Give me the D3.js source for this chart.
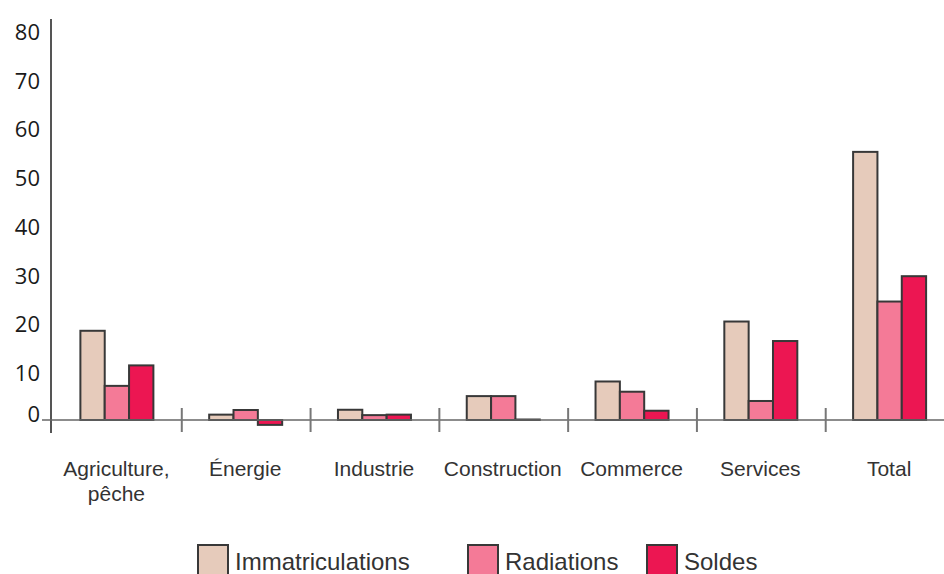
<!DOCTYPE html>
<html>
<head>
<meta charset="utf-8">
<script src="https://cdn.jsdelivr.net/npm/d3@7"></script>
<style>
  html, body { margin: 0; padding: 0; background: #fff; }
  svg { display: block; }
</style>
</head>
<body>
<svg id="chart" width="944" height="574"></svg>
<script>
const categories = [["Agriculture,", "pêche"], ["Énergie"], ["Industrie"], ["Construction"], ["Commerce"], ["Services"], ["Total"]];
const seriesNames = ["Immatriculations", "Radiations", "Soldes"];
const immatriculations = [18.3, 1.1, 2.1, 4.9, 7.9, 20.2, 55.0];
const radiations = [7.0, 2.05, 1.0, 4.9, 5.8, 3.9, 24.3];
const soldes = [11.2, -1.0, 1.1, 0.1, 1.9, 16.2, 29.5];
const yTicks = [0, 10, 20, 30, 40, 50, 60, 70, 80];
const colors = ["#e6cbbb", "#f47a97", "#ec1652"];

const seriesValues = [immatriculations, radiations, soldes];
const svg = d3.select("#chart");

const x0 = d3.scaleBand().domain(d3.range(categories.length)).range([53, 954.5]).paddingInner(0).paddingOuter(0);
const groupW = 73;
const x1 = d3.scaleBand().domain(d3.range(seriesNames.length)).range([0, groupW]).padding(0);
const y = d3.scaleLinear().domain([0, 80]).range([420, 30]);

// y axis
svg.append("line").attr("x1", 51).attr("x2", 51).attr("y1", 19).attr("y2", 433)
  .attr("stroke", "#555").attr("stroke-width", 2);
svg.append("g").selectAll("text").data(yTicks).join("text")
  .attr("x", 40)
  .attr("y", d => y(d))
  .attr("dy", d => d === 0 ? "0.1em" : "0.45em")
  .attr("text-anchor", "end")
  .attr("font-family", "'Open Sans', 'Noto Sans', sans-serif")
  .attr("font-size", 22)
  .attr("fill", "#1a1a1a")
  .text(d => d);

// bars
const groups = svg.append("g").selectAll("g").data(categories.map((c, i) => i)).join("g")
  .attr("transform", i => `translate(${x0(i) + x0.bandwidth() / 2 - groupW / 2 - 0.5},0)`);
groups.selectAll("rect").data(i => seriesValues.map((vals, s) => ({s, v: vals[i]}))).join("rect")
  .attr("x", d => x1(d.s))
  .attr("width", x1.bandwidth())
  .attr("y", d => Math.min(y(d.v), y(0)))
  .attr("height", d => Math.abs(y(d.v) - y(0)))
  .attr("fill", d => colors[d.s])
  .attr("stroke", "#383838")
  .attr("stroke-width", 2);

// x baseline
svg.append("line").attr("x1", 42).attr("x2", 944).attr("y1", y(0)).attr("y2", y(0))
  .attr("stroke", "#666").attr("stroke-width", 1.6);
// tick separators
svg.append("g").selectAll("line").data(d3.range(1, categories.length)).join("line")
  .attr("x1", i => x0(i)).attr("x2", i => x0(i))
  .attr("y1", y(0) - 12).attr("y2", y(0) + 12)
  .attr("stroke", "#777").attr("stroke-width", 2);

// category labels
const lab = svg.append("g").selectAll("text").data(categories).join("text")
  .attr("text-anchor", "middle")
  .attr("font-family", "'Liberation Sans', Arial, sans-serif")
  .attr("font-size", 21)
  .attr("fill", "#333")
  .attr("transform", (c, i) => `translate(${x0(i) + x0.bandwidth() / 2 - 1},476)`);
lab.selectAll("tspan").data(c => c).join("tspan")
  .attr("x", 0).attr("dy", (d, j) => j === 0 ? 0 : 25).text(d => d);

// legend
const legendX = [198, 468, 647];
const leg = svg.append("g").selectAll("g").data(seriesNames).join("g")
  .attr("transform", (d, i) => `translate(${legendX[i]},545)`);
leg.append("rect").attr("width", 30).attr("height", 32)
  .attr("fill", (d, i) => colors[i]).attr("stroke", "#383838").attr("stroke-width", 2);
leg.append("text").attr("x", 37).attr("y", 25)
  .attr("font-family", "'Liberation Sans', Arial, sans-serif")
  .attr("font-size", 24).attr("fill", "#333")
  .text(d => d);
</script>
</body>
</html>
